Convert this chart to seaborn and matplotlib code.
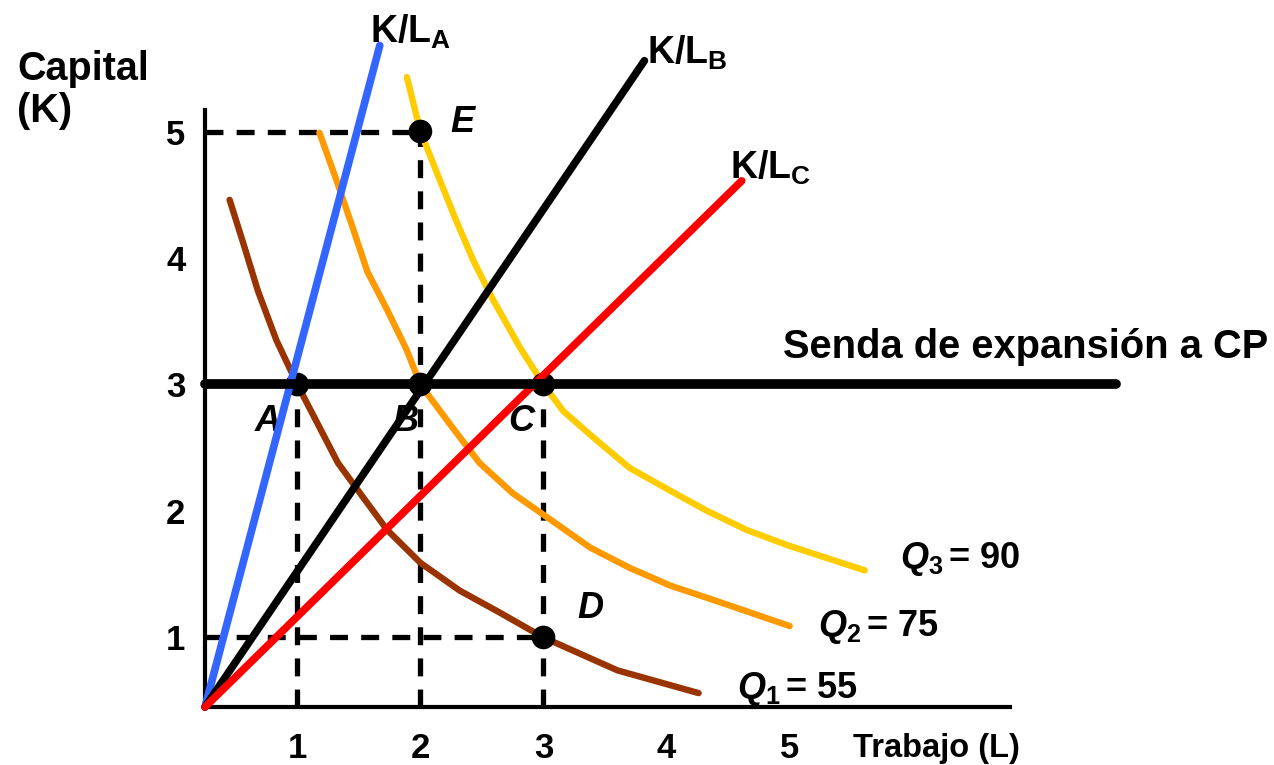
import matplotlib
matplotlib.use("Agg")
import matplotlib.pyplot as plt
import seaborn as sns

# Isoquants (L, K)
q1_L = [0.45, 0.56, 0.68, 0.83, 1.0, 1.33, 1.51, 1.73, 2.0, 2.32, 2.62, 3.0, 3.3, 3.6, 4.26]
q1_K = [4.46, 4.12, 3.74, 3.35, 3.0, 2.38, 2.14, 1.85, 1.59, 1.37, 1.21, 1.0, 0.87, 0.74, 0.56]

q2_L = [1.18, 1.32, 1.45, 1.57, 1.73, 1.89, 2.0, 2.26, 2.48, 2.75, 3.03, 3.38, 3.70, 4.03, 4.43, 5.0]
q2_K = [4.99, 4.61, 4.24, 3.89, 3.59, 3.27, 3.0, 2.66, 2.38, 2.14, 1.95, 1.71, 1.55, 1.41, 1.28, 1.09]

q3_L = [1.89, 2.0, 2.16, 2.28, 2.43, 2.59, 2.81, 3.0, 3.16, 3.43, 3.70, 4.03, 4.33, 4.65, 4.98, 5.61]
q3_K = [5.43, 5.0, 4.61, 4.32, 3.98, 3.67, 3.29, 3.0, 2.79, 2.56, 2.34, 2.16, 2.0, 1.85, 1.73, 1.53]

# origin of the diagram and end points of the K/L rays
L0, K0 = 0.25, 0.45
ray_A = (1.67, 5.68)
ray_B = (3.82, 5.56)
ray_C = (4.61, 4.61)
senda_K = 3
senda_end = 7.65

# labelled points
pt_names = ["A", "B", "C", "D", "E"]
pt_L = [1, 2, 3, 3, 2]
pt_K = [3, 3, 3, 1, 5]

ticks = [1, 2, 3, 4, 5]

sns.set_theme(style="white")
plt.rcParams["font.family"] = ["Liberation Sans", "DejaVu Sans"]
plt.rcParams["text.color"] = "black"
plt.rcParams["mathtext.fontset"] = "custom"
plt.rcParams["mathtext.rm"] = "Liberation Sans:bold"
plt.rcParams["mathtext.bf"] = "Liberation Sans:bold"
plt.rcParams["mathtext.it"] = "Liberation Sans:italic:bold"

fig = plt.figure(figsize=(12.74, 7.65), dpi=100)
ax = fig.add_axes([0.1609, 0.0758, 0.6319, 0.7804])
ax.set_xlim(L0, 6.79)
ax.set_ylim(K0, 5.17)

# dashed guides
dash = dict(color="black", lw=3.8, dashes=(3.4, 2.5), zorder=1)
ax.plot([1, 1], [K0, 3], **dash)
ax.plot([2, 2], [K0, 5], **dash)
ax.plot([3, 3], [K0, 3], **dash)
ax.plot([L0, 2], [5, 5], **dash)
ax.plot([L0, 3], [1, 1], **dash)

# isoquants
for L, K, c in [(q1_L, q1_K, "#993300"), (q2_L, q2_K, "#FF9900"), (q3_L, q3_K, "#FFCC00")]:
    sns.lineplot(x=L, y=K, ax=ax, color=c, lw=4.6, sort=False, zorder=2)
    ax.lines[-1].set_clip_on(False)

# points
sns.scatterplot(x=pt_L, y=pt_K, ax=ax, color="black", s=290, edgecolor="none", zorder=3)

# rays and short-run expansion path
for end, c in [(ray_A, "#3366FF"), (ray_B, "black"), (ray_C, "#FF0000")]:
    sns.lineplot(x=[L0, end[0]], y=[K0, end[1]], ax=ax, color=c, lw=5.5, zorder=4)
    ax.lines[-1].set_clip_on(False)
ln = ax.plot([L0, senda_end], [senda_K, senda_K], color="black", lw=7, zorder=4)[0]
ln.set_clip_on(False)

# axes
for s in ["top", "right"]:
    ax.spines[s].set_visible(False)
for s in ["left", "bottom"]:
    ax.spines[s].set_color("black")
    ax.spines[s].set_linewidth(3)
ax.set_xticks(ticks)
ax.set_yticks(ticks)
ax.tick_params(length=0, labelsize=25, labelcolor="black")
ax.tick_params(axis="x", pad=18)
ax.tick_params(axis="y", pad=14)
for t in ax.get_xticklabels() + ax.get_yticklabels():
    t.set_fontweight("bold")

# labels
bold = dict(fontweight="bold", color="black", va="baseline", ha="left")
ax.text(-1.274, 5.405, "Capital", fontsize=28.5, **bold)
ax.text(-1.274, 5.073, "(K)", fontsize=28.5, **bold)
ax.text(5.515, 0.057, "Trabajo (L)", fontsize=23.5, **bold)
ax.text(8.889, 3.206, "Senda de expansión a CP", fontsize=28.7,
        fontweight="bold", color="black", va="baseline", ha="right")
ax.text(1.589, 5.706, r"K/L$_\mathbf{A}$", fontsize=27, **bold)
ax.text(3.841, 5.540, r"K/L$_\mathbf{B}$", fontsize=27, **bold)
ax.text(4.516, 4.630, r"K/L$_\mathbf{C}$", fontsize=27, **bold)
ax.text(5.897, 1.552, r"$\mathit{Q_3}$$\,$= 90", fontsize=26, **bold)
ax.text(5.232, 1.014, r"$\mathit{Q_2}$$\,$= 75", fontsize=26, **bold)
ax.text(4.572, 0.524, r"$\mathit{Q_1}$$\,$= 55", fontsize=26, **bold)

pt_text = {"A": (0.654, 2.636), "B": (1.776, 2.636), "C": (2.711, 2.636),
           "D": (3.272, 1.157), "E": (2.240, 4.994)}
for name in pt_names:
    x, y = pt_text[name]
    ax.text(x, y, name, fontsize=26, fontstyle="italic", **bold)

fig.savefig("out.png", dpi=100)
